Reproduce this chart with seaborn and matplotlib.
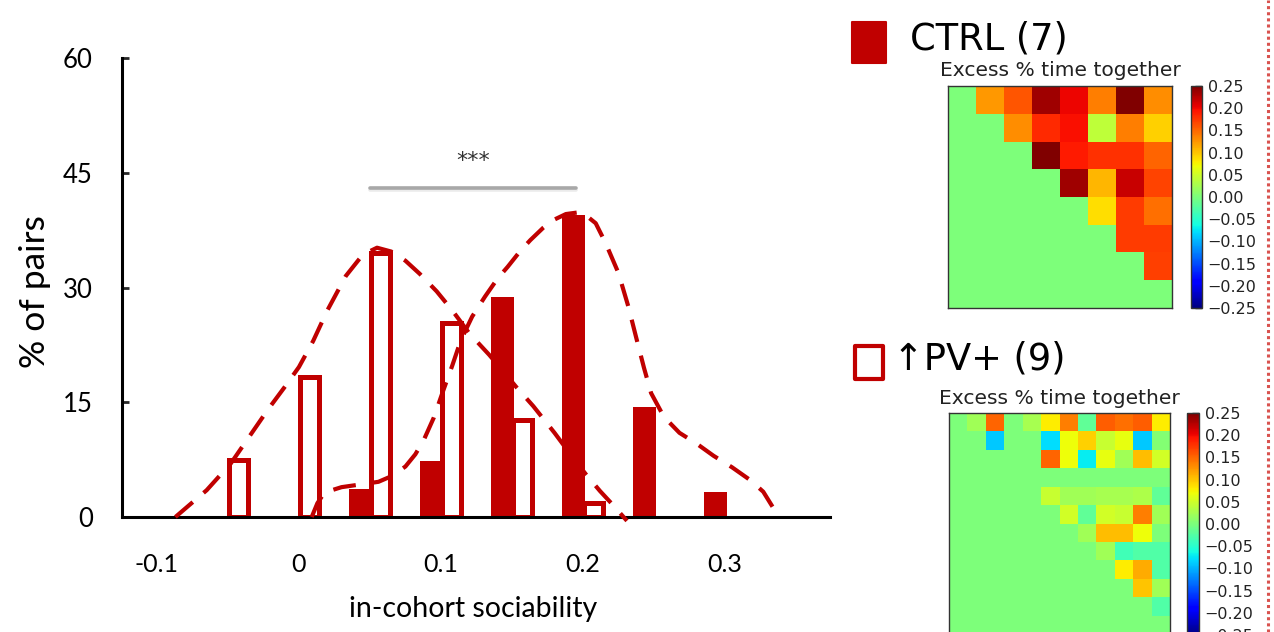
import numpy as np
import pandas as pd
import matplotlib
matplotlib.use("Agg")
import matplotlib.pyplot as plt
import matplotlib.patheffects as pe
from matplotlib.patches import Rectangle
from matplotlib.lines import Line2D
from matplotlib.ticker import FuncFormatter
import seaborn as sns

# ---------------- data ----------------
bins = [-0.05, 0.0, 0.05, 0.10, 0.15, 0.20, 0.25, 0.30]
ctrl_pct = [0, 0, 3.7, 7.3, 28.8, 39.5, 14.4, 3.3]
pv_pct = [7.4, 18.3, 34.5, 25.4, 12.7, 1.8, 0, 0]

pv_curve_x = [-0.087, -0.065, -0.048, -0.035, -0.022, -0.010, 0.000, 0.010, 0.020,
              0.033, 0.045, 0.055, 0.065, 0.075, 0.085, 0.097, 0.108, 0.120, 0.134,
              0.145, 0.153, 0.165, 0.180, 0.192, 0.202, 0.212, 0.220, 0.231]
pv_curve_y = [0.0, 3.5, 7.0, 10.5, 14.0, 17.0, 19.6, 23.0, 27.0,
              31.5, 34.3, 35.2, 34.7, 33.5, 31.8, 29.5, 27.0, 24.0, 21.2,
              18.8, 17.0, 14.5, 11.0, 8.0, 5.6, 3.4, 1.8, -0.5]

ctrl_curve_x = [0.009, 0.013, 0.018, 0.030, 0.045, 0.056, 0.066, 0.075, 0.082, 0.088,
                0.095, 0.101, 0.108, 0.114, 0.122, 0.131, 0.140, 0.147, 0.156, 0.163,
                0.172, 0.179, 0.188, 0.196, 0.203, 0.209, 0.216, 0.225, 0.232, 0.238,
                0.243, 0.248, 0.257, 0.268, 0.280, 0.292, 0.305, 0.318, 0.327, 0.335]
ctrl_curve_y = [0.0, 1.8, 3.2, 3.9, 4.3, 4.6, 5.4, 6.6, 8.2, 10.1,
                13.0, 16.2, 19.8, 23.1, 26.2, 28.8, 31.2, 32.7, 34.8, 36.2,
                37.8, 38.8, 39.6, 39.8, 39.3, 38.4, 35.8, 31.9, 27.5, 23.1,
                19.5, 16.2, 13.1, 11.0, 9.6, 8.0, 6.5, 4.8, 3.3, 0.9]

sig_x = [0.05, 0.195]
sig_y = 43.0
sig_text = "***"

x_ticks = [-0.1, 0.0, 0.1, 0.2, 0.3]
x_ticklabels = ["-0.1", "0", "0.1", "0.2", "0.3"]
y_ticks = [0, 15, 30, 45, 60]

ctrl_matrix = [
    [0, 0.124, 0.160, 0.236, 0.203, 0.137, 0.250, 0.130],
    [0, 0, 0.130, 0.183, 0.196, 0.041, 0.137, 0.094],
    [0, 0, 0, 0.250, 0.190, 0.178, 0.178, 0.151],
    [0, 0, 0, 0, 0.236, 0.108, 0.217, 0.168],
    [0, 0, 0, 0, 0, 0.086, 0.173, 0.145],
    [0, 0, 0, 0, 0, 0, 0.173, 0.173],
    [0, 0, 0, 0, 0, 0, 0, 0.171],
    [0, 0, 0, 0, 0, 0, 0, 0],
]
pv_matrix = [
    [0, 0.022, 0.151, 0, 0.027, 0.080, 0.137, -0.016, 0.155, 0.145, 0.155, 0.080],
    [0, 0, -0.088, 0, 0, -0.079, 0.069, 0.094, 0.046, 0.066, -0.088, 0.005],
    [0, 0, 0, 0, 0, 0.151, 0.069, -0.071, 0.066, 0.022, 0.104, 0.052],
    [0, 0, 0, 0, 0, 0, 0, 0, 0, 0, 0, 0],
    [0, 0, 0, 0, 0, 0.046, 0.022, 0.022, 0.027, 0.027, 0.030, -0.016],
    [0, 0, 0, 0, 0, 0, 0.052, -0.016, 0.052, 0.046, 0.137, 0.022],
    [0, 0, 0, 0, 0, 0, 0, 0.022, 0.104, 0.104, 0.069, 0],
    [0, 0, 0, 0, 0, 0, 0, 0, 0.022, -0.036, -0.027, -0.027],
    [0, 0, 0, 0, 0, 0, 0, 0, 0, 0.080, 0.115, -0.027],
    [0, 0, 0, 0, 0, 0, 0, 0, 0, 0, 0.100, 0.022],
    [0, 0, 0, 0, 0, 0, 0, 0, 0, 0, 0, -0.027],
    [0, 0, 0, 0, 0, 0, 0, 0, 0, 0, 0, 0],
]
cbar_ticks = [-0.25, -0.20, -0.15, -0.10, -0.05, 0.0, 0.05, 0.10, 0.15, 0.20, 0.25]
ctrl_label = "CTRL (7)"
pv_label = "\u2191PV+ (9)"
heat_title = "Excess % time together"

# ---------------- style ----------------
sns.set_style("white")
plt.rcParams["font.family"] = ["Lato", "DejaVu Sans"]
RED = "#c00000"

W, H = 1274, 632
fig = plt.figure(figsize=(W / 100, H / 100), dpi=100)


def rect(x0, y0, x1, y1):
    return [x0 / W, 1 - y1 / H, (x1 - x0) / W, (y1 - y0) / H]


# ---------------- main histogram ----------------
ax = fig.add_axes(rect(122, 58, 830, 517))

ctrl_df = pd.DataFrame({"x": np.array(bins) - 0.0065, "pct": ctrl_pct})
ctrl_df = ctrl_df[ctrl_df["pct"] > 0]
pv_df = pd.DataFrame({"x": np.array(bins) + 0.0077, "pct": pv_pct})
pv_df = pv_df[pv_df["pct"] > 0]

n0 = len(ax.patches)
sns.barplot(data=ctrl_df, x="x", y="pct", native_scale=True, orient="x",
            width=0.324, color=RED, saturation=1, errorbar=None, ax=ax)
for p in ax.patches[n0:]:
    p.set_facecolor(RED)
    p.set_edgecolor(RED)
    p.set_linewidth(0)
n1 = len(ax.patches)
sns.barplot(data=pv_df, x="x", y="pct", native_scale=True, orient="x",
            width=0.268, color="white", saturation=1, errorbar=None, ax=ax)
for p in ax.patches[n1:]:
    p.set_facecolor("white")
    p.set_edgecolor(RED)
    p.set_linewidth(3.6)
    p.set_joinstyle("miter")
    p.set_zorder(2)

dash = (0, (5.5, 3.4))
sns.lineplot(x=pv_curve_x, y=pv_curve_y, ax=ax, color=RED, linewidth=3.0,
             linestyle=dash, sort=False, clip_on=False, zorder=4)
sns.lineplot(x=ctrl_curve_x, y=ctrl_curve_y, ax=ax, color=RED, linewidth=3.0,
             linestyle=dash, sort=False, clip_on=False, zorder=4)

ax.plot(sig_x, [sig_y, sig_y], color="#a8a8a8", lw=2.6, solid_capstyle="round",
        path_effects=[pe.SimpleLineShadow(offset=(0, -1.5), alpha=0.08, shadow_color="k"),
                      pe.Normal()], zorder=5)
ax.text(np.mean(sig_x), sig_y + 3.6, sig_text, ha="center", va="center",
        fontsize=16, color="#333333", family="DejaVu Sans")

ax.set_xlim(-0.1246, 0.374)
ax.set_ylim(0, 60)
ax.set_xticks(x_ticks)
ax.set_xticklabels(x_ticklabels)
ax.set_yticks(y_ticks)
for s in ["top", "right"]:
    ax.spines[s].set_visible(False)
for s in ["left", "bottom"]:
    ax.spines[s].set_linewidth(2.2)
    ax.spines[s].set_color("black")
ax.tick_params(axis="x", length=0, pad=26, labelsize=18, labelcolor="black")
ax.tick_params(axis="y", direction="in", length=5, width=2.0, pad=21,
               labelsize=18.5, labelcolor="black", left=True)
ax.set_xlabel("in-cohort sociability", fontsize=20.5, color="black")
ax.xaxis.set_label_coords(0.496, -0.172)
ax.set_ylabel("% of pairs", fontsize=25.5, color="black")
ax.yaxis.set_label_coords(-0.100, 0.492)

# ---------------- legends ----------------
fig.add_artist(Rectangle((852 / W, 1 - 63 / H), 34 / W, 41 / H, transform=fig.transFigure,
                         facecolor=RED, edgecolor=RED, lw=1.5, joinstyle="round"))
fig.text(910 / W, 1 - 49 / H, ctrl_label, fontsize=26.5, family="DejaVu Sans",
         ha="left", va="baseline", color="black")
fig.add_artist(Rectangle((854.5 / W, 1 - 378.5 / H), 28.5 / W, 33 / H, transform=fig.transFigure,
                         facecolor="white", edgecolor=RED, lw=3.0, joinstyle="round"))
fig.text(893 / W, 1 - 370 / H, pv_label, fontsize=26.5, family="DejaVu Sans",
         ha="left", va="baseline", color="black")

# ---------------- heatmaps ----------------
def fmt(v, pos):
    s = f"{v:.2f}"
    if s == "-0.00":
        s = "0.00"
    return s.replace("-", "\u2212")


def draw_heat(mat, hrect, crect, pad):
    hax = fig.add_axes(rect(*hrect))
    cax = fig.add_axes(rect(*crect))
    sns.heatmap(np.array(mat), ax=hax, cbar_ax=cax, cmap="jet", vmin=-0.25, vmax=0.25,
                xticklabels=False, yticklabels=False, square=False)
    for s in hax.spines.values():
        s.set_visible(True)
        s.set_color("#333333")
        s.set_linewidth(1.0)
    hax.set_title(heat_title, fontsize=14.6, family="DejaVu Sans", color="#222222", pad=pad)
    cb = hax.collections[0].colorbar
    cb.set_ticks(cbar_ticks)
    cb.ax.yaxis.set_major_formatter(FuncFormatter(fmt))
    cb.outline.set_visible(True)
    cb.outline.set_linewidth(1.0)
    cb.outline.set_edgecolor("#333333")
    cb.ax.tick_params(direction="in", length=5, width=1, colors="#222222",
                      labelsize=11.5, pad=4)
    for t in cb.ax.get_yticklabels():
        t.set_family("DejaVu Sans")


draw_heat(ctrl_matrix, (948, 86, 1172, 308), (1191, 86, 1202, 308), 7)
draw_heat(pv_matrix, (949, 413, 1170, 634), (1187, 413, 1199, 635), 6.5)

# ---------------- dotted separator ----------------
fig.add_artist(Line2D([1268 / W, 1268 / W], [0, 1], transform=fig.transFigure,
                      color="#d9534f", lw=2.2, linestyle=(0, (1, 1))))

fig.savefig("out.png", dpi=100)
